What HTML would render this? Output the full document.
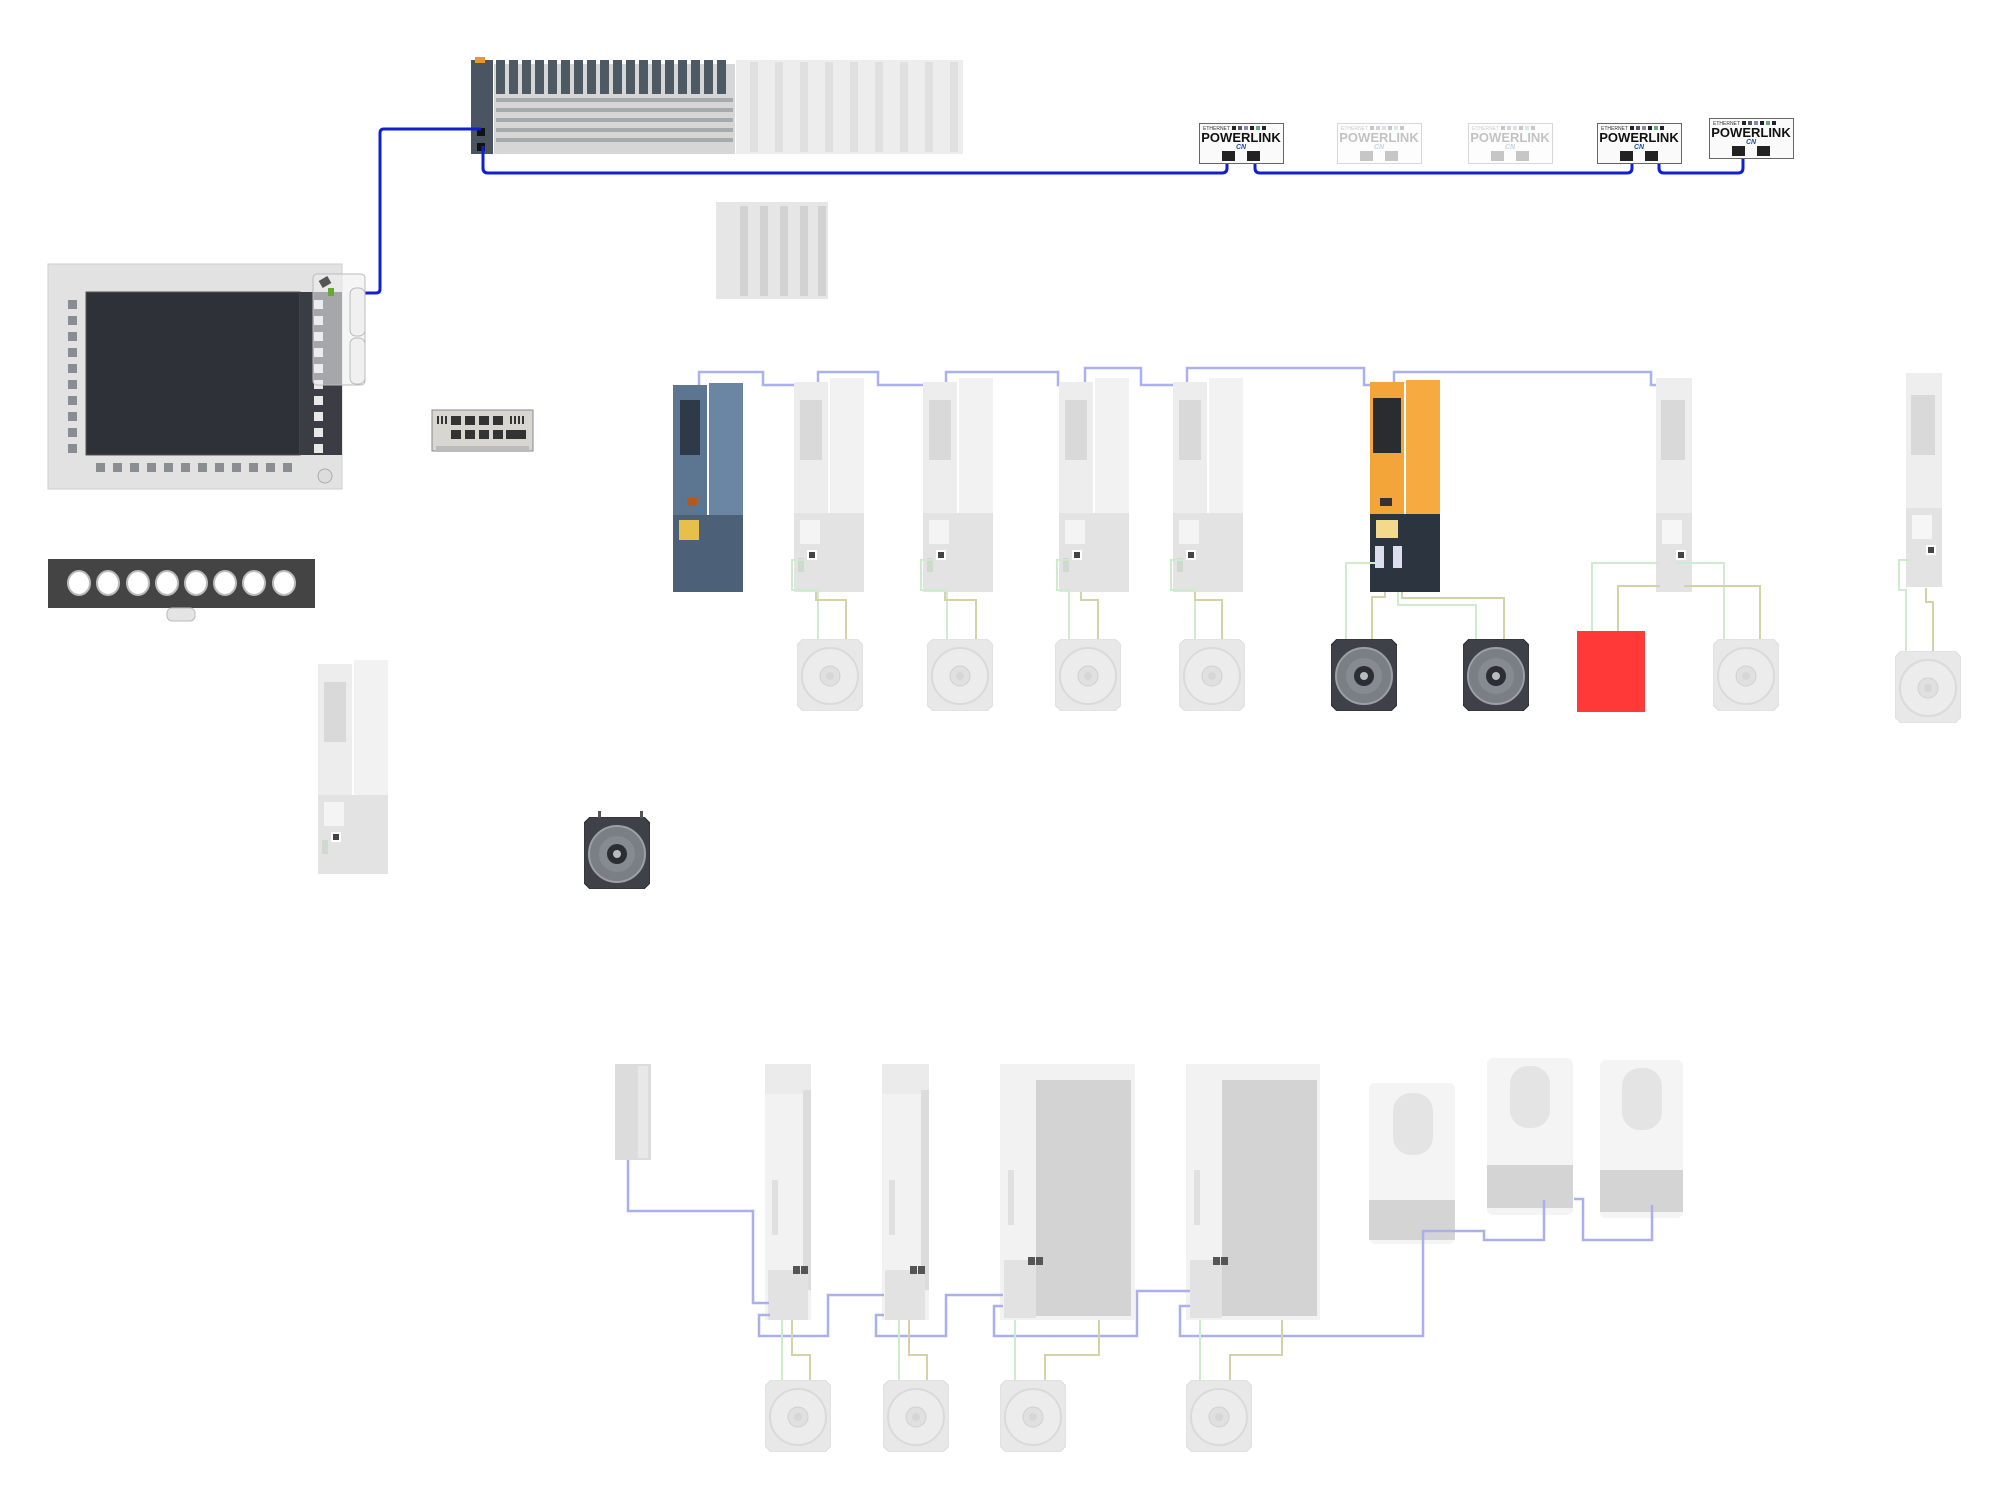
<!DOCTYPE html>
<html><head><meta charset="utf-8"><style>
html,body{margin:0;padding:0;background:#fff;}
svg{display:block;font-family:"Liberation Sans",sans-serif;}
</style></head><body>
<svg width="2000" height="1493" viewBox="0 0 2000 1493" xmlns="http://www.w3.org/2000/svg">
<defs>
  <symbol id="gd" viewBox="0 0 70 214" width="70" height="214">
    <rect x="0" y="4" width="34" height="210" fill="#ededed"/>
    <rect x="36" y="0" width="34" height="214" fill="#f2f2f2"/>
    <rect x="6" y="22" width="22" height="60" fill="#d9d9d9"/>
    <rect x="0" y="135" width="70" height="79" fill="#e3e3e3"/>
    <rect x="6" y="142" width="20" height="24" fill="#f4f4f4"/>
    <rect x="13" y="172" width="10" height="10" fill="#fff"/>
    <rect x="15" y="174" width="6" height="6" fill="#444"/>
    <rect x="4" y="180" width="6" height="14" fill="#cfd9cf"/>
  </symbol>
  <symbol id="gs" viewBox="0 0 36 214" width="36" height="214">
    <rect x="0" y="0" width="36" height="214" fill="#eeeeee"/>
    <rect x="5" y="22" width="24" height="60" fill="#d9d9d9"/>
    <rect x="0" y="135" width="36" height="79" fill="#e3e3e3"/>
    <rect x="6" y="142" width="20" height="24" fill="#f6f6f6"/>
    <rect x="20" y="172" width="10" height="10" fill="#fff"/>
    <rect x="22" y="174" width="6" height="6" fill="#444"/>
  </symbol>
  <symbol id="gm" viewBox="0 0 66 72" width="66" height="72">
    <path d="M6 0H60L66 6V66L60 72H6L0 66V6Z" fill="#e8e8e8" stroke="#dcdcdc"/>
    <circle cx="33" cy="37" r="28" fill="#ececec" stroke="#dadada" stroke-width="2"/>
    <circle cx="33" cy="37" r="10" fill="#e0e0e0" stroke="#d0d0d0"/>
    <circle cx="33" cy="37" r="4" fill="#d6d6d6"/>
  </symbol>
  <symbol id="dm" viewBox="0 0 66 72" width="66" height="72">
    <path d="M6 0H60L66 6V66L60 72H6L0 66V6Z" fill="#3e4248" stroke="#2a2d31"/>
    <circle cx="33" cy="37" r="28" fill="#7a7f86" stroke="#9aa0a6" stroke-width="2"/>
    <circle cx="33" cy="37" r="18" fill="#868b92"/>
    <circle cx="33" cy="37" r="10" fill="#2b2e33"/>
    <circle cx="33" cy="37" r="4" fill="#b8bcc0"/>
  </symbol>
  <symbol id="pl" viewBox="0 0 85 41" width="85" height="41">
    <rect x="0.5" y="0.5" width="84" height="40" fill="#fafafa" stroke="#666"/>
    <text x="4" y="7" font-size="5" fill="#333">ETHERNET</text>
    <rect x="33" y="3" width="4" height="4" fill="#222"/><rect x="39" y="3" width="4" height="4" fill="#556"/>
    <rect x="45" y="3" width="4" height="4" fill="#88a"/><rect x="51" y="3" width="4" height="4" fill="#222"/>
    <rect x="57" y="3" width="4" height="4" fill="#6a8"/><rect x="63" y="3" width="4" height="4" fill="#223"/>
    <text x="42" y="19" font-size="13" font-weight="bold" text-anchor="middle" fill="#111">POWERLINK</text>
    <text x="42" y="26" font-size="7" font-style="italic" font-weight="bold" text-anchor="middle" fill="#1a4fa0">CN</text>
    <rect x="23" y="28" width="13" height="10" fill="#222"/>
    <rect x="48" y="28" width="13" height="10" fill="#222"/>
  </symbol>
</defs>

<!-- PLC rack -->
<rect x="471" y="60" width="22" height="94" fill="#4b5562"/>
<rect x="475" y="57" width="10" height="6" fill="#e8962e"/>
<rect x="477" y="128" width="8" height="8" fill="#111"/>
<rect x="477" y="143" width="8" height="8" fill="#111"/>
<g>
  <rect x="494" y="64" width="241" height="90" fill="#d6d6d6"/>
  <g fill="#4d5a63">
    <rect x="496" y="60" width="9" height="34"/><rect x="509" y="60" width="9" height="34"/>
    <rect x="522" y="60" width="9" height="34"/><rect x="535" y="60" width="9" height="34"/>
    <rect x="548" y="60" width="9" height="34"/><rect x="561" y="60" width="9" height="34"/>
    <rect x="574" y="60" width="9" height="34"/><rect x="587" y="60" width="9" height="34"/>
    <rect x="600" y="60" width="9" height="34"/><rect x="613" y="60" width="9" height="34"/>
    <rect x="626" y="60" width="9" height="34"/><rect x="639" y="60" width="9" height="34"/>
    <rect x="652" y="60" width="9" height="34"/><rect x="665" y="60" width="9" height="34"/>
    <rect x="678" y="60" width="9" height="34"/><rect x="691" y="60" width="9" height="34"/>
    <rect x="704" y="60" width="9" height="34"/><rect x="717" y="60" width="9" height="34"/>
  </g>
  <g fill="#9aa0a4" opacity="0.8">
    <rect x="496" y="98" width="237" height="4"/><rect x="496" y="108" width="237" height="4"/>
    <rect x="496" y="118" width="237" height="4"/><rect x="496" y="128" width="237" height="4"/>
    <rect x="496" y="138" width="237" height="4"/>
  </g>
</g>
<rect x="736" y="60" width="227" height="94" fill="#ededed"/>
<g fill="#e0e0e0">
  <rect x="750" y="62" width="8" height="90"/><rect x="775" y="62" width="8" height="90"/>
  <rect x="800" y="62" width="8" height="90"/><rect x="825" y="62" width="8" height="90"/>
  <rect x="850" y="62" width="8" height="90"/><rect x="875" y="62" width="8" height="90"/>
  <rect x="900" y="62" width="8" height="90"/><rect x="925" y="62" width="8" height="90"/>
  <rect x="950" y="62" width="8" height="90"/>
</g>

<!-- small IO module -->
<rect x="716" y="202" width="112" height="97" fill="#e6e6e6"/>
<g fill="#d2d2d2"><rect x="740" y="206" width="8" height="90"/><rect x="760" y="206" width="8" height="90"/><rect x="780" y="206" width="8" height="90"/><rect x="800" y="206" width="8" height="90"/><rect x="818" y="206" width="8" height="90"/></g>

<!-- blue powerlink line -->
<path d="M481 129 H384 Q380 129 380 133 V289 Q380 293 376 293 H357" fill="none" stroke="#1020d0" stroke-width="3"/>
<path d="M483 146 V168 Q483 173 488 173 H1222 Q1227 173 1227 168 V160" fill="none" stroke="#1020d0" stroke-width="3"/>
<path d="M1255 160 V168 Q1255 173 1260 173 H1627 Q1632 173 1632 168 V160" fill="none" stroke="#1020d0" stroke-width="3"/>
<path d="M1659 160 V168 Q1659 173 1664 173 H1738 Q1743 173 1743 168 V154" fill="none" stroke="#1020d0" stroke-width="3"/>

<!-- powerlink boxes -->
<use href="#pl" x="1199" y="123"/>
<use href="#pl" x="1337" y="123" opacity="0.25"/>
<use href="#pl" x="1468" y="123" opacity="0.25"/>
<use href="#pl" x="1597" y="123"/>
<use href="#pl" x="1709" y="118"/>

<!-- panel -->
<rect x="48" y="264" width="294" height="225" fill="#e2e2e2" stroke="#cfcfcf"/>
<rect x="86" y="292" width="214" height="163" fill="#2e3138" stroke="#555"/>
<rect x="300" y="292" width="42" height="163" fill="#3a3d44"/>
<g fill="#8a8d92">
  <rect x="68" y="300" width="9" height="9"/><rect x="68" y="316" width="9" height="9"/><rect x="68" y="332" width="9" height="9"/>
  <rect x="68" y="348" width="9" height="9"/><rect x="68" y="364" width="9" height="9"/><rect x="68" y="380" width="9" height="9"/>
  <rect x="68" y="396" width="9" height="9"/><rect x="68" y="412" width="9" height="9"/><rect x="68" y="428" width="9" height="9"/>
  <rect x="68" y="444" width="9" height="9"/>
  <rect x="96" y="463" width="9" height="9"/><rect x="113" y="463" width="9" height="9"/><rect x="130" y="463" width="9" height="9"/>
  <rect x="147" y="463" width="9" height="9"/><rect x="164" y="463" width="9" height="9"/><rect x="181" y="463" width="9" height="9"/>
  <rect x="198" y="463" width="9" height="9"/><rect x="215" y="463" width="9" height="9"/><rect x="232" y="463" width="9" height="9"/>
  <rect x="249" y="463" width="9" height="9"/><rect x="266" y="463" width="9" height="9"/><rect x="283" y="463" width="9" height="9"/>
</g>
<g fill="#e8e8e8">
  <rect x="314" y="300" width="9" height="9"/><rect x="314" y="316" width="9" height="9"/><rect x="314" y="332" width="9" height="9"/>
  <rect x="314" y="348" width="9" height="9"/><rect x="314" y="364" width="9" height="9"/><rect x="314" y="380" width="9" height="9"/>
  <rect x="314" y="396" width="9" height="9"/><rect x="314" y="412" width="9" height="9"/><rect x="314" y="428" width="9" height="9"/>
  <rect x="314" y="444" width="9" height="9"/>
</g>
<circle cx="325" cy="476" r="7" fill="#ddd" stroke="#aaa"/>
<rect x="313" y="274" width="52" height="111" rx="4" fill="#eee" fill-opacity="0.6" stroke="#bbb"/>
<rect x="350" y="288" width="15" height="48" rx="6" fill="#f0f0f0" stroke="#bbb"/>
<rect x="350" y="338" width="15" height="46" rx="6" fill="#f0f0f0" stroke="#bbb"/>
<rect x="320" y="278" width="10" height="8" fill="#555" transform="rotate(-30 325 282)"/>
<rect x="328" y="288" width="6" height="8" fill="#6a3"/>

<!-- switch -->
<rect x="432" y="410" width="101" height="41" fill="#d8d6d0" stroke="#888"/>
<rect x="436" y="446" width="93" height="6" fill="#bbb"/>
<g fill="#333"><rect x="451" y="416" width="10" height="9"/><rect x="465" y="416" width="10" height="9"/><rect x="479" y="416" width="10" height="9"/><rect x="493" y="416" width="10" height="9"/>
<rect x="451" y="430" width="10" height="9"/><rect x="465" y="430" width="10" height="9"/><rect x="479" y="430" width="10" height="9"/><rect x="493" y="430" width="10" height="9"/>
<rect x="506" y="430" width="20" height="9"/>
<rect x="437" y="416" width="2" height="8"/><rect x="441" y="416" width="2" height="8"/><rect x="445" y="416" width="2" height="8"/>
<rect x="510" y="416" width="2" height="8"/><rect x="514" y="416" width="2" height="8"/><rect x="518" y="416" width="2" height="8"/><rect x="522" y="416" width="2" height="8"/></g>

<!-- button bar -->
<rect x="48" y="559" width="267" height="49" fill="#444"/>
<g fill="#fff" stroke="#bbb" stroke-width="2">
  <ellipse cx="79" cy="583" rx="11" ry="12"/><ellipse cx="108" cy="583" rx="11" ry="12"/><ellipse cx="138" cy="583" rx="11" ry="12"/>
  <ellipse cx="167" cy="583" rx="11" ry="12"/><ellipse cx="196" cy="583" rx="11" ry="12"/><ellipse cx="225" cy="583" rx="11" ry="12"/>
  <ellipse cx="254" cy="583" rx="11" ry="12"/><ellipse cx="284" cy="583" rx="11" ry="12"/>
</g>
<rect x="167" y="608" width="28" height="13" rx="5" fill="#e4e4e4" stroke="#bbb"/>

<!-- ghost drive bottom-left -->
<use href="#gd" x="318" y="660"/>
<!-- dark motor alone -->
<use href="#dm" x="584" y="817"/>
<rect x="598" y="811" width="3" height="7" fill="#555"/><rect x="640" y="811" width="3" height="7" fill="#555"/>

<!-- top light blue drive bus -->
<path d="M699 385 V372 H763 V385 H812 M818 385 V372 H878 V385 H940 M946 385 V372 H1058 V385 H1080 M1085 385 V368 H1141 V385 H1180 M1187 385 V368 H1364 V385 H1378 M1394 385 V372 H1651 V385 H1668" fill="none" stroke="#aab0f0" stroke-width="2.5"/>

<!-- blue drive -->
<rect x="673" y="385" width="34" height="207" fill="#5c7590"/>
<rect x="709" y="383" width="34" height="209" fill="#6b86a3"/>
<rect x="680" y="400" width="20" height="55" fill="#2e3a48"/>
<rect x="673" y="515" width="70" height="77" fill="#4c6178"/>
<rect x="679" y="520" width="20" height="20" fill="#e6c04a"/>
<rect x="687" y="498" width="10" height="8" fill="#b35a1a"/>

<!-- ghost drives row -->
<use href="#gd" x="794" y="378"/>
<use href="#gd" x="923" y="378"/>
<use href="#gd" x="1059" y="378"/>
<use href="#gd" x="1173" y="378"/>
<use href="#gs" x="1656" y="378"/>
<use href="#gs" x="1906" y="373"/>

<!-- orange drive -->
<rect x="1370" y="382" width="34" height="210" fill="#f4a53a"/>
<rect x="1406" y="380" width="34" height="212" fill="#f6aa3f"/>
<rect x="1373" y="398" width="28" height="55" fill="#2a2c30"/>
<rect x="1380" y="498" width="12" height="8" fill="#333"/>
<rect x="1370" y="514" width="70" height="78" fill="#2c3440"/>
<rect x="1376" y="520" width="22" height="18" fill="#f3d98a"/>
<rect x="1375" y="546" width="9" height="22" fill="#dde"/>
<rect x="1393" y="546" width="9" height="22" fill="#dde"/>

<!-- cables top row (green/olive) -->
<g fill="none" stroke-width="2">
  <path d="M806 560 H792 V590 H818 V640" stroke="#cdeccd"/>
  <path d="M816 592 V600 H846 V640" stroke="#d6d2a8"/>
  <path d="M935 560 H921 V590 H947 V640" stroke="#cdeccd"/>
  <path d="M945 592 V600 H976 V640" stroke="#d6d2a8"/>
  <path d="M1071 560 H1057 V590 H1069 V640" stroke="#cdeccd"/>
  <path d="M1081 592 V600 H1098 V640" stroke="#d6d2a8"/>
  <path d="M1185 560 H1171 V590 H1195 V640" stroke="#cdeccd"/>
  <path d="M1195 592 V600 H1222 V640" stroke="#d6d2a8"/>
  <path d="M1380 563 H1346 V640" stroke="#cdeccd"/>
  <path d="M1385 592 V597 H1372 V640" stroke="#d6d2a8"/>
  <path d="M1398 592 V605 H1476 V640" stroke="#cdeccd"/>
  <path d="M1402 592 V598 H1504 V640" stroke="#d6d2a8"/>
  <path d="M1660 563 H1592 V631 M1675 563 H1724 V640" stroke="#cdeccd"/>
  <path d="M1660 586 H1618 V631 M1684 586 H1760 V640" stroke="#d6d2a8"/>
  <path d="M1912 560 H1899 V590 H1906 V652" stroke="#cdeccd"/>
  <path d="M1926 588 V602 H1933 V652" stroke="#d6d2a8"/>
</g>

<!-- motors top row -->
<use href="#gm" x="797" y="639"/>
<use href="#gm" x="927" y="639"/>
<use href="#gm" x="1055" y="639"/>
<use href="#gm" x="1179" y="639"/>
<use href="#dm" x="1331" y="639"/>
<use href="#dm" x="1463" y="639"/>
<rect x="1577" y="631" width="68" height="81" fill="#ff3838"/>
<use href="#gm" x="1713" y="639"/>
<use href="#gm" x="1895" y="651"/>

<!-- bottom section -->
<rect x="615" y="1064" width="36" height="96" fill="#dcdcdc"/>
<rect x="638" y="1066" width="10" height="92" fill="#e8e8e8"/>

<g>
  <rect x="765" y="1064" width="46" height="256" fill="#f2f2f2"/>
  <rect x="765" y="1064" width="46" height="30" fill="#ebebeb"/>
  <rect x="803" y="1090" width="8" height="200" fill="#dcdcdc"/>
  <rect x="772" y="1180" width="6" height="55" fill="#e0e0e0"/>
  <rect x="768" y="1270" width="40" height="50" fill="#e2e2e2"/>
  <rect x="793" y="1266" width="7" height="8" fill="#555"/><rect x="801" y="1266" width="7" height="8" fill="#555"/>

  <rect x="882" y="1064" width="47" height="256" fill="#f2f2f2"/>
  <rect x="882" y="1064" width="47" height="30" fill="#ebebeb"/>
  <rect x="921" y="1090" width="8" height="200" fill="#dcdcdc"/>
  <rect x="889" y="1180" width="6" height="55" fill="#e0e0e0"/>
  <rect x="885" y="1270" width="40" height="50" fill="#e2e2e2"/>
  <rect x="910" y="1266" width="7" height="8" fill="#555"/><rect x="918" y="1266" width="7" height="8" fill="#555"/>

  <rect x="1000" y="1064" width="135" height="256" fill="#f2f2f2"/>
  <rect x="1036" y="1080" width="95" height="236" fill="#d3d3d3"/>
  <rect x="1008" y="1170" width="6" height="55" fill="#e0e0e0"/>
  <rect x="1004" y="1260" width="32" height="58" fill="#e2e2e2"/>
  <rect x="1028" y="1257" width="7" height="8" fill="#555"/><rect x="1036" y="1257" width="7" height="8" fill="#555"/>

  <rect x="1186" y="1064" width="134" height="256" fill="#f2f2f2"/>
  <rect x="1222" y="1080" width="95" height="236" fill="#d3d3d3"/>
  <rect x="1194" y="1170" width="6" height="55" fill="#e0e0e0"/>
  <rect x="1190" y="1260" width="32" height="58" fill="#e2e2e2"/>
  <rect x="1213" y="1257" width="7" height="8" fill="#555"/><rect x="1221" y="1257" width="7" height="8" fill="#555"/>
</g>

<!-- inverters -->
<g>
  <rect x="1369" y="1083" width="86" height="161" rx="6" fill="#f4f4f4"/>
  <rect x="1393" y="1093" width="40" height="62" rx="18" fill="#e4e4e4"/>
  <rect x="1369" y="1200" width="86" height="40" fill="#d4d4d4"/>
  <rect x="1487" y="1058" width="86" height="157" rx="6" fill="#f4f4f4"/>
  <rect x="1510" y="1066" width="40" height="62" rx="18" fill="#e4e4e4"/>
  <rect x="1487" y="1165" width="86" height="43" fill="#d4d4d4"/>
  <rect x="1600" y="1060" width="83" height="158" rx="6" fill="#f4f4f4"/>
  <rect x="1622" y="1068" width="40" height="62" rx="18" fill="#e4e4e4"/>
  <rect x="1600" y="1170" width="83" height="42" fill="#d4d4d4"/>
</g>

<!-- bottom blue bus -->
<g fill="none" stroke="#aab0ec" stroke-width="2.5">
  <path d="M628 1160 V1211 H753 V1303 H769"/>
  <path d="M770 1315 H759 V1336 H828 V1295 H884"/>
  <path d="M884 1315 H876 V1336 H946 V1295 H1003"/>
  <path d="M1003 1306 H994 V1336 H1137 V1291 H1190"/>
  <path d="M1190 1306 H1180 V1336 H1423 V1231 H1436"/>
  <path d="M1436 1231 H1484 V1240 H1544 V1200"/>
  <path d="M1574 1199 H1583 V1240 H1652 V1205"/>
</g>
<!-- bottom cables -->
<g fill="none" stroke-width="2">
  <path d="M782 1320 V1380" stroke="#cdeccd"/><path d="M792 1320 V1355 H810 V1380" stroke="#d6d2a8"/>
  <path d="M899 1320 V1380" stroke="#cdeccd"/><path d="M909 1320 V1355 H927 V1380" stroke="#d6d2a8"/>
  <path d="M1015 1320 V1380" stroke="#cdeccd"/><path d="M1099 1320 V1355 H1045 V1380" stroke="#d6d2a8"/>
  <path d="M1200 1320 V1380" stroke="#cdeccd"/><path d="M1282 1320 V1355 H1230 V1380" stroke="#d6d2a8"/>
</g>
<use href="#gm" x="765" y="1380"/>
<use href="#gm" x="883" y="1380"/>
<use href="#gm" x="1000" y="1380"/>
<use href="#gm" x="1186" y="1380"/>
</svg>
</body></html>
